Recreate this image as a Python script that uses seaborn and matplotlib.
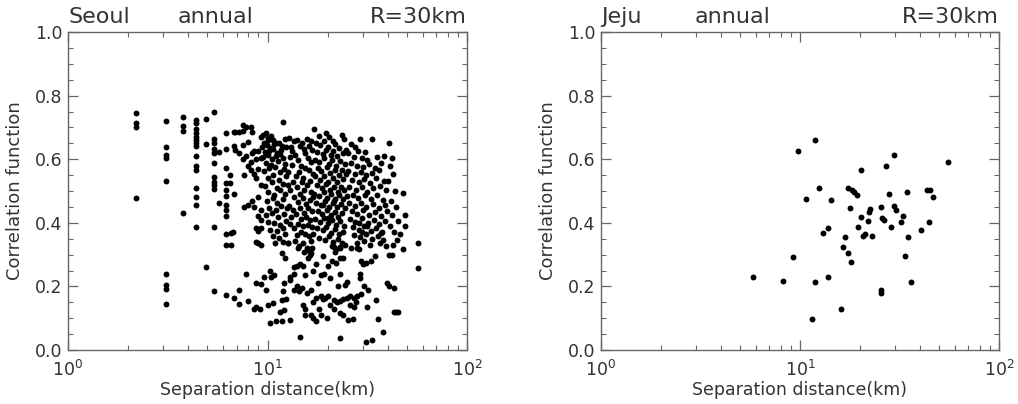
import matplotlib
matplotlib.use("Agg")
import matplotlib.pyplot as plt
import seaborn as sns
import pandas as pd
from matplotlib.ticker import MultipleLocator, LogLocator, FormatStrFormatter, NullFormatter

# Seoul: separation distance (km), correlation
seoul_left = [
    (2.19, 0.745), (2.19, 0.714), (2.19, 0.70), (2.19, 0.478),
    (3.09, 0.72), (3.09, 0.638), (3.09, 0.613), (3.09, 0.604), (3.09, 0.531),
    (3.09, 0.239), (3.09, 0.204), (3.09, 0.192), (3.09, 0.145),
    (3.76, 0.733), (3.76, 0.704), (3.76, 0.689), (3.76, 0.43),
    (4.37, 0.723), (4.37, 0.713), (4.37, 0.695), (4.37, 0.682), (4.37, 0.671),
    (4.37, 0.66), (4.37, 0.65), (4.37, 0.64), (4.37, 0.61), (4.37, 0.579),
    (4.37, 0.566), (4.37, 0.509), (4.37, 0.482), (4.37, 0.456), (4.37, 0.387),
    (4.92, 0.726), (4.92, 0.648), (4.92, 0.26),
    (5.37, 0.748), (5.37, 0.663), (5.37, 0.65), (5.37, 0.631), (5.37, 0.619),
    (5.37, 0.589), (5.37, 0.543), (5.37, 0.529), (5.37, 0.519), (5.37, 0.505),
    (5.37, 0.387), (5.37, 0.186),
    (5.7, 0.623), (5.7, 0.462),
]

seoul_mid = [
    (6.16, 0.681), (6.16, 0.633), (6.16, 0.571), (6.16, 0.524), (6.16, 0.503),
    (6.16, 0.484), (6.16, 0.455), (6.16, 0.44), (6.16, 0.421), (6.16, 0.365),
    (6.16, 0.33), (6.16, 0.173),
    (6.5, 0.55), (6.5, 0.524), (6.6, 0.368), (6.6, 0.33), (6.7, 0.37),
    (6.8, 0.686), (6.8, 0.49), (6.8, 0.162), (6.8, 0.64),
    (6.9, 0.684), (6.9, 0.63),
    (7.2, 0.19), (7.2, 0.145), (7.2, 0.685), (7.2, 0.62),
    (7.5, 0.708), (7.5, 0.689), (7.5, 0.645), (7.5, 0.60),
    (7.6, 0.45), (7.6, 0.55),
    (7.8, 0.238), (7.8, 0.70), (7.8, 0.61),
    (8.0, 0.455), (8.0, 0.153), (8.0, 0.655), (8.0, 0.58),
    (8.3, 0.701), (8.3, 0.565), (8.3, 0.59),
    (8.4, 0.686), (8.4, 0.47), (8.4, 0.62),
    (8.6, 0.13), (8.6, 0.555), (8.6, 0.625), (8.6, 0.45),
    (8.8, 0.60), (8.8, 0.54), (8.8, 0.385), (8.8, 0.34),
    (9.0, 0.625), (9.0, 0.48), (9.0, 0.42), (9.0, 0.375), (9.0, 0.335), (9.0, 0.57),
    (9.3, 0.67), (9.3, 0.605), (9.3, 0.44), (9.3, 0.33), (9.3, 0.41), (9.3, 0.385),
    (9.3, 0.52),
]

seoul_core1 = [
    (9.5, 0.676), (9.8, 0.683), (10.1, 0.668), (10.4, 0.674), (9.6, 0.652), (10.0, 0.661),
    (10.6, 0.659), (11.0, 0.652), (9.4, 0.638), (9.9, 0.644), (10.3, 0.636), (10.8, 0.647),
    (11.4, 0.651), (11.8, 0.642), (12.2, 0.662), (9.7, 0.622), (10.2, 0.627), (10.7, 0.631),
    (11.2, 0.621), (11.7, 0.629), (12.4, 0.638), (9.5, 0.607), (10.0, 0.614), (10.5, 0.602),
    (11.0, 0.609), (11.5, 0.617), (12.0, 0.604), (9.8, 0.588), (10.4, 0.582), (11.3, 0.594),
    (12.3, 0.586), (9.6, 0.562), (10.2, 0.571), (10.9, 0.577), (11.6, 0.561), (12.1, 0.568),
    (10.0, 0.542), (10.7, 0.551), (11.4, 0.536), (12.4, 0.547), (9.7, 0.517), (10.5, 0.527),
    (11.1, 0.511), (11.9, 0.522), (10.1, 0.496), (10.8, 0.487), (11.5, 0.502), (12.2, 0.491),
    (9.9, 0.468), (10.6, 0.477), (11.2, 0.462), (12.0, 0.474), (10.2, 0.447), (11.0, 0.441),
    (11.7, 0.454), (12.5, 0.446), (9.8, 0.423), (10.5, 0.432), (11.3, 0.417), (12.1, 0.427),
    (10.0, 0.403), (10.8, 0.398), (11.6, 0.392), (12.4, 0.407), (10.3, 0.378), (11.1, 0.373),
    (11.9, 0.384), (10.6, 0.357), (11.4, 0.353), (12.3, 0.364), (10.9, 0.338), (12.0, 0.341),
    (12.6, 0.336), (11.9, 0.717),
]

seoul_core2 = [
    (12.8, 0.668), (13.6, 0.657), (14.1, 0.661), (14.9, 0.652), (15.7, 0.664), (16.5, 0.658),
    (13.1, 0.637), (13.3, 0.626), (14.5, 0.641), (15.2, 0.633), (15.5, 0.618), (16.2, 0.641),
    (16.8, 0.628), (12.9, 0.606), (13.8, 0.612), (14.3, 0.597), (15.9, 0.603), (16.6, 0.591),
    (13.2, 0.583), (14.7, 0.579), (15.4, 0.571), (16.1, 0.566), (12.7, 0.559), (13.9, 0.548),
    (14.4, 0.561), (16.9, 0.553), (15.1, 0.541), (16.4, 0.532), (13.4, 0.527), (12.9, 0.503),
    (14.0, 0.512), (14.6, 0.489), (15.3, 0.504), (15.8, 0.518), (16.6, 0.497), (13.6, 0.481),
    (14.2, 0.466), (15.0, 0.477), (15.6, 0.459), (16.3, 0.473), (16.9, 0.481), (12.8, 0.454),
    (13.4, 0.441), (14.5, 0.448), (15.2, 0.432), (16.0, 0.446), (16.7, 0.437), (13.1, 0.418),
    (13.9, 0.427), (14.8, 0.411), (15.6, 0.419), (16.4, 0.408), (14.3, 0.396), (15.1, 0.389),
    (15.9, 0.393), (16.8, 0.387), (13.5, 0.383), (14.0, 0.362), (14.7, 0.371), (15.5, 0.364),
    (16.2, 0.357), (16.9, 0.366), (13.7, 0.342), (15.0, 0.338), (16.5, 0.344), (14.4, 0.327),
    (15.8, 0.321), (15.2, 0.307), (16.6, 0.305), (13.0, 0.397), (12.7, 0.52), (14.9, 0.527),
]

seoul_core3 = [
    (17.2, 0.695), (18.1, 0.673), (19.7, 0.682), (20.4, 0.671), (21.4, 0.658), (23.5, 0.676),
    (24.2, 0.664), (17.5, 0.652), (18.4, 0.644), (19.3, 0.658), (20.0, 0.638), (21.9, 0.647),
    (22.8, 0.636), (17.8, 0.624), (18.9, 0.617), (19.6, 0.629), (20.8, 0.612), (21.3, 0.626),
    (22.4, 0.609), (23.8, 0.618), (24.7, 0.628), (17.3, 0.598), (18.2, 0.591), (19.2, 0.603),
    (20.3, 0.586), (21.1, 0.597), (22.0, 0.579), (23.1, 0.594), (24.4, 0.584), (17.9, 0.571),
    (18.6, 0.562), (19.9, 0.574), (20.6, 0.556), (21.8, 0.566), (22.7, 0.551), (23.5, 0.567),
    (17.4, 0.547), (18.3, 0.534), (19.3, 0.548), (20.1, 0.527), (21.2, 0.541), (22.2, 0.529),
    (23.9, 0.539), (24.8, 0.552), (17.7, 0.519), (18.8, 0.508), (19.6, 0.522), (20.5, 0.503),
    (21.6, 0.514), (22.5, 0.498), (23.3, 0.512), (24.3, 0.503), (17.2, 0.492), (18.1, 0.484),
    (19.1, 0.496), (19.9, 0.479), (20.9, 0.489), (21.9, 0.476), (22.9, 0.487), (24.0, 0.474),
    (24.9, 0.483), (17.6, 0.463), (18.5, 0.456), (19.4, 0.467), (20.3, 0.451), (21.3, 0.461),
    (22.3, 0.449), (23.3, 0.458), (24.5, 0.446), (17.9, 0.437), (18.7, 0.428), (19.8, 0.441),
    (20.7, 0.424), (21.7, 0.434), (22.6, 0.419), (23.7, 0.431), (17.3, 0.412), (18.4, 0.404),
    (19.2, 0.416), (20.2, 0.398), (21.1, 0.409), (22.1, 0.394), (23.1, 0.405), (24.2, 0.391),
    (17.7, 0.383), (18.9, 0.376), (19.7, 0.387), (20.8, 0.369), (21.8, 0.379), (22.9, 0.364),
    (24.0, 0.372), (18.2, 0.352), (19.4, 0.346), (20.4, 0.357), (21.4, 0.339), (22.5, 0.348),
    (23.5, 0.337), (21.0, 0.326), (22.0, 0.318), (23.2, 0.324), (24.6, 0.331), (21.7, 0.309),
    (19.0, 0.455), (20.0, 0.415), (21.5, 0.47),
]

seoul_core4 = [
    (29.0, 0.662), (33.5, 0.665), (26.2, 0.648), (27.6, 0.637), (28.4, 0.627), (30.7, 0.622),
    (25.4, 0.618), (27.1, 0.608), (29.6, 0.603), (31.4, 0.596), (35.2, 0.607), (38.5, 0.611),
    (26.3, 0.587), (28.1, 0.58), (30.1, 0.577), (32.2, 0.584), (34.4, 0.572), (37.2, 0.589),
    (25.2, 0.562), (27.3, 0.553), (29.3, 0.561), (31.0, 0.549), (33.3, 0.557), (36.1, 0.566),
    (26.6, 0.536), (28.7, 0.527), (30.4, 0.538), (32.7, 0.524), (35.1, 0.541), (38.2, 0.531),
    (25.7, 0.512), (27.8, 0.503), (29.8, 0.514), (31.7, 0.498), (33.9, 0.509), (36.6, 0.517),
    (39.1, 0.502), (26.9, 0.486), (28.5, 0.479), (30.9, 0.488), (33.1, 0.474), (35.4, 0.486),
    (37.9, 0.473), (25.5, 0.461), (27.3, 0.454), (29.5, 0.463), (31.3, 0.449), (33.7, 0.458),
    (36.2, 0.447), (38.6, 0.457), (26.4, 0.436), (28.2, 0.428), (30.2, 0.439), (32.4, 0.424),
    (34.6, 0.433), (37.1, 0.421), (39.6, 0.438), (25.8, 0.411), (27.6, 0.403), (29.7, 0.414),
    (31.9, 0.399), (34.1, 0.408), (36.4, 0.397), (38.9, 0.406), (26.7, 0.386), (28.7, 0.378),
    (30.5, 0.389), (32.9, 0.374), (35.1, 0.384), (37.6, 0.372), (27.1, 0.362), (29.1, 0.354),
    (31.1, 0.364), (33.3, 0.349), (35.7, 0.358), (38.1, 0.347), (28.1, 0.338), (30.4, 0.342),
    (32.6, 0.331), (36.6, 0.336), (39.1, 0.327), (26.1, 0.322), (28.6, 0.317), (29.9, 0.371),
    (31.5, 0.39), (28.9, 0.4),
]

seoul_edge = [
    (40.5, 0.65), (42.0, 0.605), (41.0, 0.58), (42.5, 0.555), (40.0, 0.53), (43.5, 0.5),
    (48.0, 0.495), (41.5, 0.47), (44.0, 0.45), (42.0, 0.425), (49.0, 0.425), (45.0, 0.405),
    (49.0, 0.39), (41.0, 0.39), (43.0, 0.37), (46.0, 0.365), (44.5, 0.345), (42.5, 0.33),
    (48.0, 0.317), (57.0, 0.338), (57.0, 0.257), (40.5, 0.3), (42.0, 0.3),
]

seoul_low = [
    (8.8, 0.135), (9.2, 0.128), (8.8, 0.21), (9.3, 0.208), (9.8, 0.19), (10.3, 0.25),
    (10.4, 0.228), (10.8, 0.235), (10.3, 0.085), (11.0, 0.09), (11.8, 0.09), (10.7, 0.147),
    (11.8, 0.157), (12.4, 0.16), (12.0, 0.184), (11.5, 0.12), (12.1, 0.125), (12.9, 0.094),
    (12.1, 0.21), (11.8, 0.305), (12.2, 0.29), (12.6, 0.336), (13.0, 0.23), (13.5, 0.24),
    (13.5, 0.19), (14.0, 0.2), (14.4, 0.185), (14.9, 0.195), (13.5, 0.26), (14.1, 0.265),
    (14.5, 0.27), (15.0, 0.265), (16.0, 0.29), (16.3, 0.3), (16.0, 0.315), (16.8, 0.32),
    (15.0, 0.14), (15.5, 0.13), (15.4, 0.11), (16.5, 0.11), (17.0, 0.1), (17.6, 0.09),
    (18.6, 0.11), (17.0, 0.15), (17.6, 0.165), (18.5, 0.17), (19.0, 0.16), (19.5, 0.165),
    (20.2, 0.17), (18.5, 0.235), (19.2, 0.24), (20.0, 0.265), (20.5, 0.225), (19.0, 0.295),
    (21.0, 0.28), (22.0, 0.275), (21.6, 0.325), (23.0, 0.32), (23.0, 0.29), (24.0, 0.29),
    (23.0, 0.24), (25.0, 0.215), (21.5, 0.157), (22.3, 0.15), (23.2, 0.155), (24.0, 0.16),
    (25.0, 0.165), (26.0, 0.17), (27.0, 0.165), (28.0, 0.17), (29.5, 0.175), (23.2, 0.115),
    (24.0, 0.11), (25.2, 0.095), (26.7, 0.097), (27.0, 0.136), (29.0, 0.24), (29.2, 0.225),
    (29.5, 0.28), (30.0, 0.27), (28.0, 0.32), (31.0, 0.275), (33.0, 0.28), (32.0, 0.19),
    (35.0, 0.157), (31.5, 0.136), (34.5, 0.295), (37.0, 0.367), (14.5, 0.04), (23.0, 0.037),
    (31.0, 0.024), (33.5, 0.03), (38.0, 0.058), (36.0, 0.097), (39.5, 0.21), (40.5, 0.2),
    (43.0, 0.195), (43.0, 0.12), (45.0, 0.118), (44.0, 0.12), (16.5, 0.19), (15.8, 0.18),
    (20.5, 0.14), (21.5, 0.13), (19.8, 0.1), (18.2, 0.13), (26.0, 0.14), (27.8, 0.15),
    (14.2, 0.32), (17.5, 0.27), (12.9, 0.22), (10.0, 0.14), (9.6, 0.23), (16.9, 0.25),
    (18.0, 0.21), (22.5, 0.2), (24.5, 0.205), (30.5, 0.2), (15.5, 0.235),
]

# Jeju
jeju_dist = [5.81, 8.22, 9.26, 9.81, 10.67, 11.9, 11.9, 11.5, 12.4, 13.1, 13.9, 13.9,
             14.3, 16.0, 16.5, 16.9, 17.5, 17.5, 17.8, 18.0, 18.3, 18.7, 19.4, 19.5,
             20.3, 20.3, 20.8, 21.2, 22.0, 22.2, 22.5, 22.9, 25.4, 25.4, 25.6, 25.7,
             26.4, 26.9, 27.9, 28.8, 29.6, 29.8, 30.4, 32.3, 32.9, 33.6, 34.5, 34.9,
             36.2, 40.5, 43.3, 44.5, 44.8, 46.5, 55.5]
jeju_corr = [0.228, 0.218, 0.294, 0.627, 0.476, 0.659, 0.215, 0.098, 0.509, 0.369, 0.385, 0.228,
             0.472, 0.128, 0.323, 0.355, 0.306, 0.511, 0.445, 0.276, 0.504, 0.496, 0.486, 0.386,
             0.565, 0.417, 0.357, 0.364, 0.407, 0.435, 0.444, 0.36, 0.451, 0.189, 0.178, 0.414,
             0.409, 0.579, 0.492, 0.387, 0.612, 0.454, 0.44, 0.404, 0.42, 0.297, 0.498, 0.354,
             0.213, 0.376, 0.502, 0.401, 0.502, 0.48, 0.59]

seoul = pd.DataFrame(seoul_left + seoul_mid + seoul_core1 + seoul_core2 + seoul_core3
                     + seoul_core4 + seoul_edge + seoul_low, columns=["dist", "corr"])
jeju = pd.DataFrame({"dist": jeju_dist, "corr": jeju_corr})

sns.set_style("ticks")
plt.rcParams["font.family"] = ["DejaVu Sans"]
txt = "#333333"
frame = "#666666"

fig = plt.figure(figsize=(10.18, 4.04), dpi=100)
ax1 = fig.add_axes([68 / 1018, 54 / 404, 399 / 1018, 318 / 404])
ax2 = fig.add_axes([601 / 1018, 54 / 404, 398 / 1018, 318 / 404])

panels = [(ax1, seoul, "Seoul", 0.276), (ax2, jeju, "Jeju", 0.236)]
for ax, df, name, ann_x in panels:
    sns.scatterplot(data=df, x="dist", y="corr", ax=ax, color="black", s=18,
                    linewidth=0, legend=False)
    ax.set_xscale("log")
    ax.set_xlim(1, 100)
    ax.set_ylim(0, 1)
    ax.yaxis.set_major_locator(MultipleLocator(0.2))
    ax.yaxis.set_minor_locator(MultipleLocator(0.05))
    ax.yaxis.set_major_formatter(FormatStrFormatter("%.1f"))
    ax.xaxis.set_major_locator(LogLocator(base=10))
    ax.xaxis.set_minor_locator(LogLocator(base=10, subs=range(2, 10)))
    ax.xaxis.set_minor_formatter(NullFormatter())
    for sp in ax.spines.values():
        sp.set_visible(True)
        sp.set_color(frame)
        sp.set_linewidth(1.0)
    ax.tick_params(which="both", direction="in", top=True, right=True,
                   color=frame, labelcolor=txt, labelsize=12.5)
    ax.tick_params(which="major", length=7, width=0.9)
    ax.tick_params(which="minor", length=3.5, width=0.8)
    ax.tick_params(axis="x", which="major", pad=7)
    ax.tick_params(axis="y", which="major", pad=4)
    ax.set_xlabel("Separation distance(km)", fontsize=12.5, color=txt, labelpad=1)
    ax.set_ylabel("Correlation function", fontsize=13, color=txt, labelpad=8)
    ax.text(0, 1.028, name, transform=ax.transAxes, ha="left", va="baseline",
            fontsize=16, color=txt)
    ax.text(ann_x, 1.028, "annual", transform=ax.transAxes, ha="left", va="baseline",
            fontsize=16, color=txt)
    ax.text(1, 1.028, "R=30km", transform=ax.transAxes, ha="right", va="baseline",
            fontsize=16, color=txt)

fig.savefig("out.png", dpi=100)
